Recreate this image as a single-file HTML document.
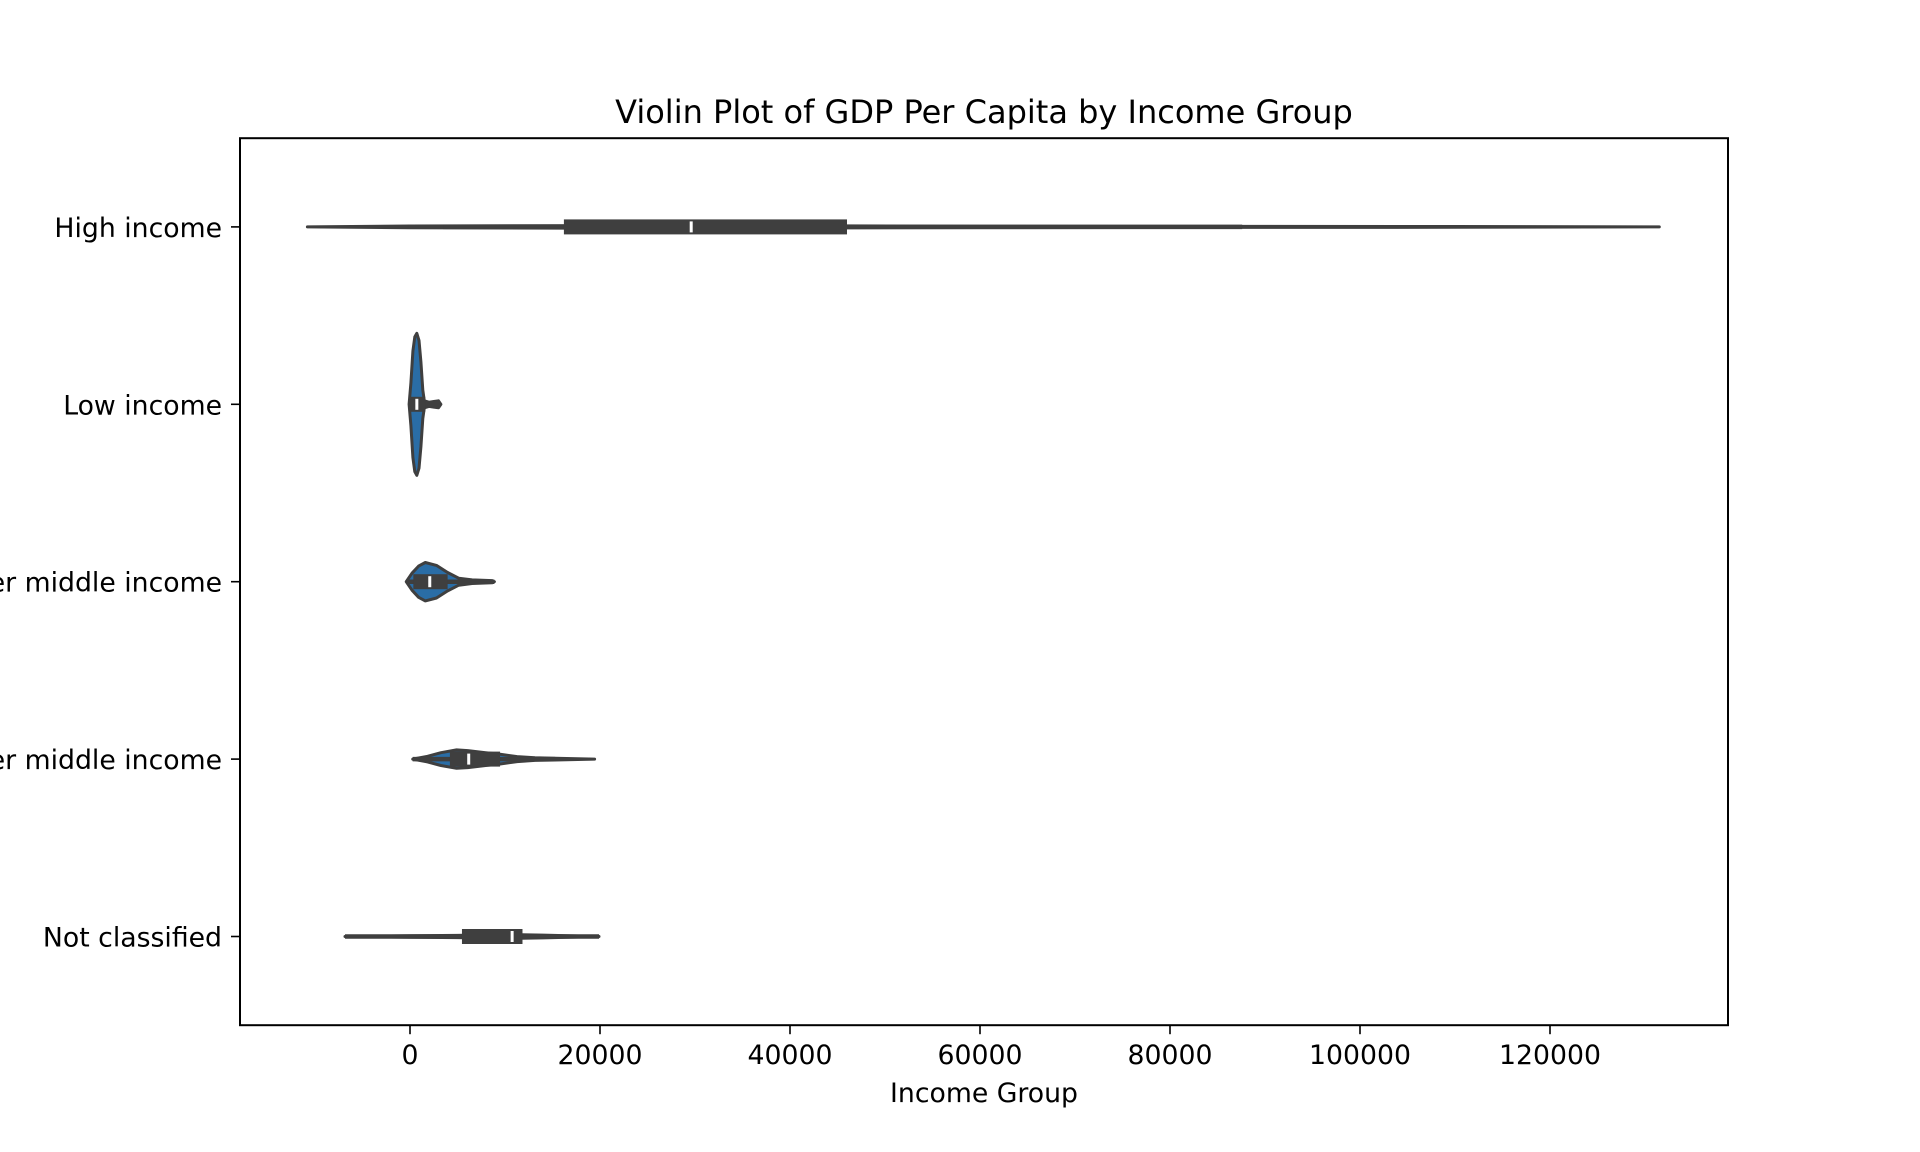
<!DOCTYPE html>
<html>
<head>
<meta charset="utf-8">
<style>
  html, body { margin: 0; padding: 0; background: #fff; }
  svg { display: block; }
  text { font-family: "DejaVu Sans", "Liberation Sans", sans-serif; fill: #000; }
</style>
</head>
<body>
<svg id="chart" width="1920" height="1152" viewBox="0 0 1920 1152" xmlns="http://www.w3.org/2000/svg">
  <rect x="0" y="0" width="1920" height="1152" fill="#fff"/>
  <text x="984" y="123" font-size="32" text-anchor="middle">Violin Plot of GDP Per Capita by Income Group</text>
  <g id="marks"></g>
  <rect x="240" y="138.2" width="1488" height="887" fill="none" stroke="#000" stroke-width="2"/>
  <g id="xticks"></g>
  <g id="yticks"></g>
  <text x="984" y="1102" font-size="26.7" text-anchor="middle">Income Group</text>
</svg>
<script>
const categories = ["High income", "Low income", "Lower middle income", "Upper middle income", "Not classified"];
const xTicks = [0, 20000, 40000, 60000, 80000, 100000, 120000];
const xTickLabels = ["0", "20000", "40000", "60000", "80000", "100000", "120000"];

// density outline per category: values and relative half-widths (0..1)
const highVals = [-10800, 0, 20000, 40000, 60000, 87600, 110000, 131500];
const highDens = [0, 0.012, 0.018, 0.016, 0.01, 0.007, 0.005, 0];
const lowVals = [-100, 100, 300, 500, 720, 950, 1150, 1350, 1500, 2000, 2500, 3000, 3250];
const lowDens = [0, 0.3, 0.75, 0.95, 1, 0.9, 0.6, 0.2, 0.05, 0.03, 0.04, 0.05, 0];
const lmidVals = [-400, 210, 910, 1610, 2790, 3960, 5130, 6540, 8650, 8880];
const lmidDens = [0, 0.12, 0.22, 0.27, 0.23, 0.13, 0.05, 0.025, 0.015, 0];
const umidVals = [280, 1840, 3250, 4900, 6080, 7970, 9390, 11270, 13160, 15280, 19430];
const umidDens = [0, 0.04, 0.09, 0.13, 0.12, 0.09, 0.07, 0.035, 0.018, 0.012, 0];
const ncVals = [-6840, 0, 5000, 10000, 14000, 19900];
const ncDens = [0, 0.01, 0.015, 0.028, 0.02, 0];

const q1 = [16200, 0, 350, 4200, 5470];
const medians = [29600, 720, 2080, 6180, 10750];
const q3 = [46000, 1600, 3960, 9480, 11840];
const whiskLo = [3500, -100, -400, 280, -6840];
const whiskHi = [87600, 3250, 8880, 15280, 19900];

const valsList = [highVals, lowVals, lmidVals, umidVals, ncVals];
const densList = [highDens, lowDens, lmidDens, umidDens, ncDens];

const NS = "http://www.w3.org/2000/svg";
const AX = { left: 240, right: 1728, top: 138.2, bottom: 1025.2 };
function xScale(v) { return 410 + v * (190 / 20000); }
const band = (AX.bottom - AX.top) / categories.length;
function yScale(i) { return AX.top + band * (i + 0.5); }
const maxHalf = band * 0.4;

function mk(tag, attrs) {
  const e = document.createElementNS(NS, tag);
  for (const k in attrs) e.setAttribute(k, attrs[k]);
  return e;
}

const marks = document.getElementById("marks");
categories.forEach((c, i) => {
  const cy = yScale(i);
  const vals = valsList[i], dens = densList[i];
  let top = [], bot = [];
  for (let j = 0; j < vals.length; j++) {
    const x = xScale(vals[j]);
    const h = dens[j] * maxHalf;
    top.push(x.toFixed(1) + "," + (cy - h).toFixed(1));
    bot.unshift(x.toFixed(1) + "," + (cy + h).toFixed(1));
  }
  const poly = mk("polygon", { points: top.concat(bot).join(" "), fill: "#2a6da6", stroke: "#3f3f3f", "stroke-width": 3, "stroke-linejoin": "round" });
  
  
  marks.appendChild(poly);

  const wl = mk("line", { x1: xScale(whiskLo[i]), x2: xScale(whiskHi[i]), y1: cy, y2: cy, stroke: "#3f3f3f", "stroke-width": 4.5 });
  
  
  marks.appendChild(wl);

  const box = mk("rect", { x: xScale(q1[i]), y: cy - 7.5, width: xScale(q3[i]) - xScale(q1[i]), height: 15, fill: "#3f3f3f" });
  
  
  marks.appendChild(box);

  const med = mk("rect", { x: xScale(medians[i]) - 1.5, y: cy - 5.5, width: 3, height: 11, fill: "#fff" });
  
  
  marks.appendChild(med);
});

const xt = document.getElementById("xticks");
xTicks.forEach((v, k) => {
  const x = xScale(v);
  const t = mk("line", { x1: x, x2: x, y1: AX.bottom, y2: AX.bottom + 9, stroke: "#000", "stroke-width": 1.6 });
  
  
  xt.appendChild(t);
  const l = mk("text", { x: x, y: 1064, "font-size": 26.7, "text-anchor": "middle" });
  l.textContent = xTickLabels[k];
  
  
  xt.appendChild(l);
});

const yt = document.getElementById("yticks");
categories.forEach((c, i) => {
  const y = yScale(i);
  const t = mk("line", { x1: AX.left - 9, x2: AX.left, y1: y, y2: y, stroke: "#000", "stroke-width": 1.6 });
  
  
  yt.appendChild(t);
  const l = mk("text", { x: 222, y: y + 10, "font-size": 26.7, "text-anchor": "end" });
  l.textContent = c;
  
  
  yt.appendChild(l);
});
</script>
</body>
</html>
